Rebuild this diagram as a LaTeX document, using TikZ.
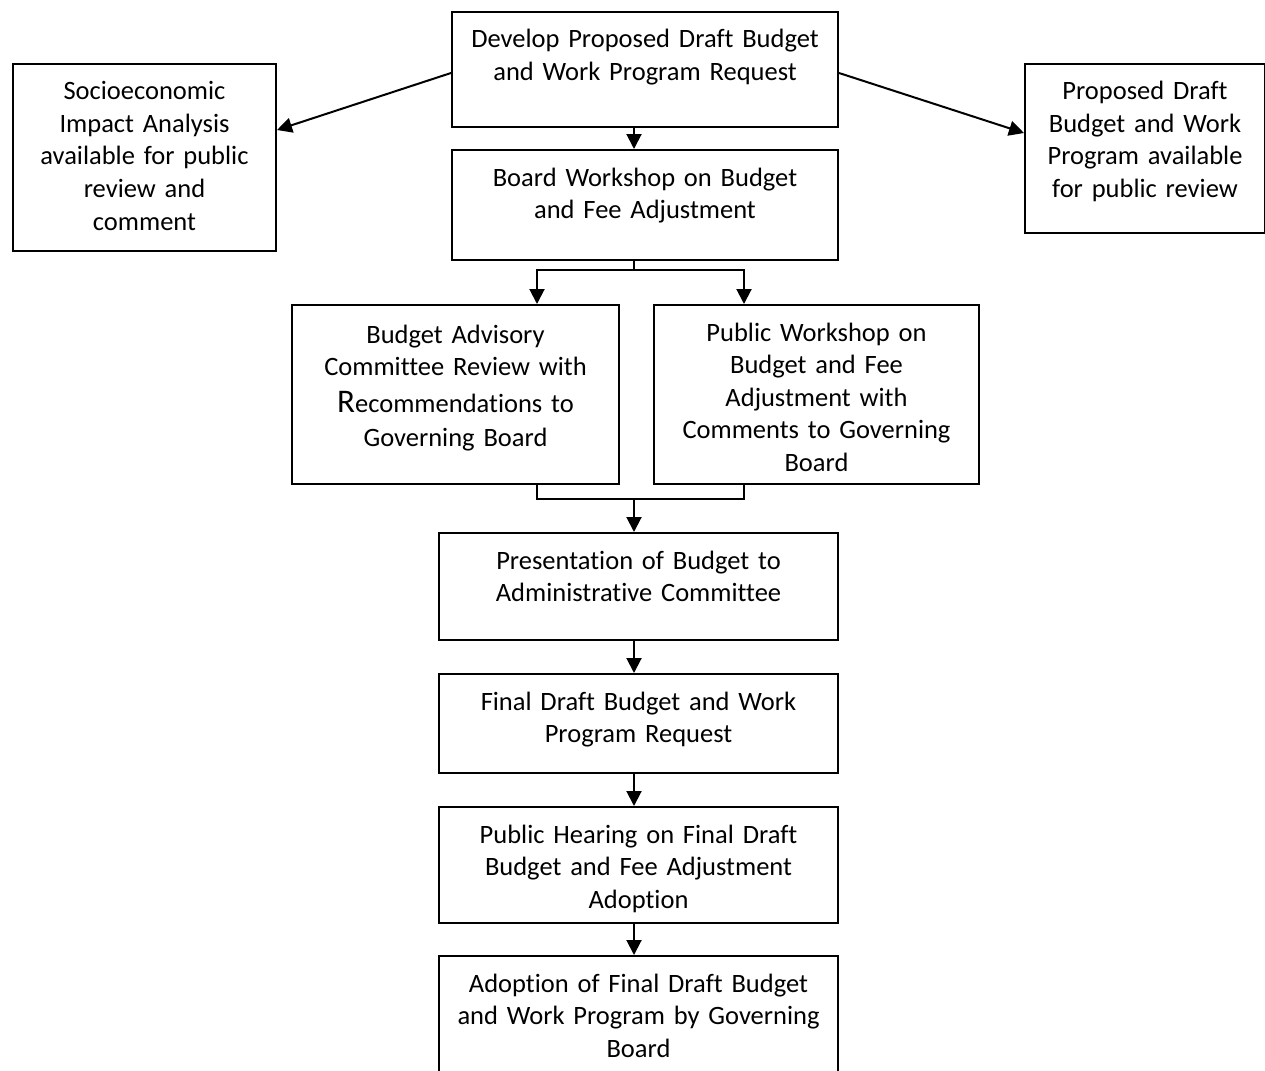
\documentclass[tikz,border=0pt]{standalone}
\usepackage{fontspec}
\setmainfont{Carlito}[Ligatures=NoCommon]
\usetikzlibrary{arrows.meta}

\begin{document}
\begin{tikzpicture}[x=1pt,y=-1pt,>={Triangle[length=15pt,width=15pt]},line width=2pt]
    \tikzstyle{box}=[draw, anchor=north west, inner sep=0pt, align=center, text height=36pt, font=\fontsize{26.5}{32.5}\selectfont]
    \tikzstyle{link}=[->]
    \tikzstyle{elbow}=[-]

    \useasboundingbox (0,0) rectangle (1265,1070);
    \coordinate (spine) at (634,0);

    % Draw the top row of boxes
    \node[box, text width=386pt, text depth=79pt] (dev) at (451,11)
        {Develop Proposed Draft Budget\\ and Work Program Request};
    \node[box, text width=263pt, text depth=151pt] (socio) at (12,63)
        {Socioeconomic\\ Impact Analysis\\ available for public\\ review and\\ comment};
    \node[box, text width=240pt, text depth=133pt] (avail) at (1024,63)
        {Proposed Draft\\ Budget and Work\\ Program available\\ for public review};
    \node[box, text width=386pt, text depth=74pt] (board) at (451,149)
        {Board Workshop on Budget\\ and Fee Adjustment};

    % Draw the two review boxes
    \node[box, text width=327pt, text height=38pt, text depth=141pt] (advisory) at (291,304)
        {Budget Advisory\\ Committee Review with\\[4pt] {\fontsize{33}{33}\selectfont R}ecommendations to\\[2pt] Governing Board};
    \node[box, text width=325pt, text depth=143pt] (pubws) at (653,304)
        {Public Workshop on\\ Budget and Fee\\ Adjustment with\\ Comments to Governing\\ Board};

    % Draw the lower chain of boxes
    \node[box, text width=399pt, text depth=71pt] (present) at (438,532)
        {Presentation of Budget to\\ Administrative Committee};
    \node[box, text width=399pt, text depth=63pt] (final) at (438,673)
        {Final Draft Budget and Work\\ Program Request};
    \node[box, text width=399pt, text depth=80pt] (hearing) at (438,806)
        {Public Hearing on Final Draft\\ Budget and Fee Adjustment\\ Adoption};
    \node[box, text width=399pt, text depth=88pt] (adopt) at (438,955)
        {Adoption of Final Draft Budget\\ and Work Program by Governing\\ Board};

    % Connect the top box with the side boxes
    \draw[link] (dev.west |- 0,73) -- (socio.east |- 0,130);
    \draw[link] (dev.east |- 0,73) -- (avail.west |- 0,133);

    % Connect the boxes along the middle
    \foreach \src/\dst in {dev/board, present/final, final/hearing, hearing/adopt}
        \draw[link] (\src.south -| spine) -- (\dst.north -| spine);

    % Split after the board workshop
    \coordinate (split) at (634,270);
    \draw[elbow] (board.south -| spine) -- (split);
    \draw[link] (split) -| (advisory.north -| 537,0);
    \draw[link] (split) -| (pubws.north -| 744,0);

    % Join before the presentation
    \coordinate (join) at (634,499);
    \draw[elbow] (advisory.south -| 537,0) |- (join);
    \draw[elbow] (pubws.south -| 744,0) |- (join);
    \draw[link] (join) -- (present.north -| spine);
\end{tikzpicture}
\end{document}
